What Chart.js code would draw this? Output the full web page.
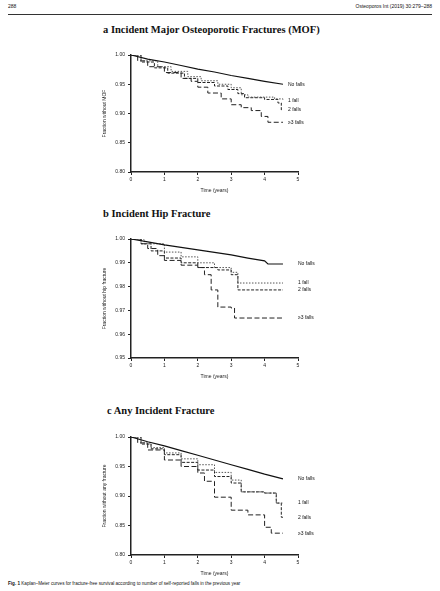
<!DOCTYPE html>
<html>
<head>
<meta charset="utf-8">
<script src="https://cdn.jsdelivr.net/npm/chart.js@4.4.1/dist/chart.umd.min.js"></script>
<style>
  body { margin: 0; background: #fff; width: 440px; height: 591px; position: relative; overflow: hidden; font-family: "Liberation Serif", serif; color: #111; }
  .abs { position: absolute; }
  .hdr { font-family: "Liberation Sans", sans-serif; font-size: 5px; top: 3px; }
  .rule { left: 8px; top: 14px; width: 424px; height: 0; border-top: 1.5px solid #333; }
  .ttl { font-weight: bold; font-size: 10.5px; white-space: nowrap; }
  .cap { font-family: "Liberation Sans", sans-serif; font-size: 4.6px; left: 8px; top: 581px; white-space: nowrap; }
  canvas { position: absolute; }
</style>
</head>
<body>
<div class="abs hdr" style="left:8px">288</div>
<div class="abs hdr" style="right:8px">Osteoporos Int (2019) 30:279–288</div>
<div class="abs rule"></div>

<div class="abs ttl" style="left:103px; top:24px">a Incident Major Osteoporotic Fractures (MOF)</div>
<canvas id="chartA" width="230" height="148" style="left:100px; top:48px"></canvas>

<div class="abs ttl" style="left:103px; top:208px">b Incident Hip Fracture</div>
<canvas id="chartB" width="230" height="150" style="left:100px; top:232px"></canvas>

<div class="abs ttl" style="left:107px; top:405px">c Any Incident Fracture</div>
<canvas id="chartC" width="230" height="149" style="left:100px; top:430px"></canvas>

<div class="abs cap"><b>Fig. 1</b> Kaplan–Meier curves for fracture-free survival according to number of self-reported falls in the previous year</div>

<script>
var groups = ["No falls", "1 fall", "2 falls", "≥3 falls"];
var timeTicks = [0, 1, 2, 3, 4, 5];

// panel a: major osteoporotic fracture, [years, fraction]
var mofNoFalls = [[0,1],[0.5,0.993],[1,0.988],[1.5,0.982],[2,0.976],[2.5,0.971],[3,0.965],[3.5,0.96],[4,0.955],[4.55,0.95]];
var mofOneFall = [[0,1],[0.3,0.99],[0.8,0.98],[1.2,0.972],[1.7,0.963],[2.1,0.956],[2.6,0.95],[3,0.944],[3.3,0.932],[3.5,0.928],[4.3,0.925],[4.55,0.922]];
var mofTwoFalls = [[0,1],[0.3,0.988],[0.7,0.978],[1.1,0.969],[1.6,0.96],[2,0.953],[2.5,0.947],[2.9,0.941],[3.2,0.934],[3.4,0.927],[4,0.924],[4.4,0.918],[4.5,0.906],[4.55,0.906]];
var mofThreeFalls = [[0,1],[0.2,0.99],[0.5,0.98],[1,0.97],[1.5,0.96],[1.8,0.955],[2,0.945],[2.3,0.935],[2.7,0.925],[3,0.915],[3.3,0.91],[3.6,0.905],[3.9,0.895],[4.1,0.885],[4.55,0.885]];

// panel b: hip fracture
var hipNoFalls = [[0,1],[0.5,0.9988],[1,0.9975],[1.5,0.9965],[2,0.9954],[2.5,0.9944],[3,0.9933],[3.5,0.992],[4,0.9908],[4.1,0.9895],[4.55,0.9895]];
var hipOneFall = [[0,1],[0.4,0.998],[1,0.9945],[1.5,0.9925],[2,0.99],[2.5,0.988],[3,0.986],[3.2,0.9815],[4.55,0.9815]];
var hipTwoFalls = [[0,1],[0.3,0.998],[0.6,0.995],[1,0.992],[1.5,0.99],[2,0.988],[2.6,0.987],[3,0.985],[3.2,0.9786],[4.55,0.9786]];
var hipThreeFalls = [[0,1],[0.3,0.998],[0.5,0.996],[0.8,0.993],[1,0.991],[1.5,0.989],[2,0.988],[2.2,0.985],[2.4,0.9786],[2.6,0.9714],[3,0.971],[3.1,0.9668],[4.55,0.9668]];

// panel c: any fracture
var anyNoFalls = [[0,1],[0.5,0.992],[1,0.985],[1.5,0.977],[2,0.969],[2.5,0.961],[3,0.953],[3.5,0.945],[4,0.937],[4.55,0.929]];
var anyOneFall = [[0,1],[0.3,0.99],[0.6,0.982],[1,0.973],[1.5,0.963],[2,0.953],[2.5,0.94],[3,0.927],[3.3,0.907],[4,0.905],[4.35,0.888],[4.55,0.888]];
var anyTwoFalls = [[0,1],[0.3,0.988],[0.6,0.98],[1,0.97],[1.5,0.957],[2,0.944],[2.5,0.933],[3,0.922],[3.3,0.907],[4,0.905],[4.35,0.888],[4.5,0.864],[4.55,0.864]];
var anyThreeFalls = [[0,1],[0.2,0.99],[0.5,0.978],[1,0.961],[1.5,0.95],[2,0.939],[2.2,0.925],[2.5,0.898],[3,0.876],[3.5,0.868],[4,0.847],[4.2,0.837],[4.55,0.837]];

var dashes = [[], [1.5, 1.5], [3, 1.5], [5, 2.5]];
var lineColors = ["#111", "#555", "#222", "#222"];

var endLabels = {
  id: 'endLabels',
  afterDatasetsDraw: function(chart) {
    var ctx = chart.ctx;
    var xs = chart.scales.x;
    var lx = xs.getPixelForValue(chart.options.labelAt);
    var last = -100;
    ctx.save();
    ctx.font = '5px "Liberation Sans"';
    ctx.fillStyle = '#111';
    ctx.textBaseline = 'middle';
    chart.data.datasets.forEach(function(ds, i) {
      var pts = chart.getDatasetMeta(i).data;
      var y = pts[pts.length - 1].y;
      if (y < last + 7) y = last + 7;
      last = y;
      ctx.fillText(ds.label, lx, y);
    });
    ctx.restore();
  }
};

function makeChart(id, series, yMin, yStep, yTitle, labelAt, padTop) {
  new Chart(document.getElementById(id), {
    type: 'line',
    data: {
      datasets: series.map(function(s, i) {
        return {
          label: groups[i],
          data: s.map(function(p) { return { x: p[0], y: p[1] }; }),
          borderColor: lineColors[i],
          borderWidth: i == 0 ? 1.2 : 1,
          borderDash: dashes[i],
          pointRadius: 0,
          stepped: i != 0,
          tension: 0
        };
      })
    },
    options: {
      responsive: false,
      animation: false,
      devicePixelRatio: 1,
      labelAt: labelAt,
      layout: { padding: { top: padTop, right: 32, left: 0, bottom: 0 } },
      plugins: { legend: { display: false }, tooltip: { enabled: false } },
      scales: {
        x: {
          type: 'linear', min: 0, max: 5,
          afterBuildTicks: function(s) { s.ticks = timeTicks.map(function(v) { return { value: v }; }); },
          afterFit: function(s) { s.height = 24; },
          grid: { drawOnChartArea: false, drawTicks: true, tickLength: 3, color: '#222' },
          border: { color: '#222', width: 1.5 },
          ticks: { font: { family: 'Liberation Sans', size: 5 }, color: '#222', padding: 2 },
          title: { display: true, text: 'Time (years)', font: { family: 'Liberation Sans', size: 5 }, color: '#222', padding: { top: 3, bottom: 2 } }
        },
        y: {
          type: 'linear', min: yMin, max: 1,
          ticks: { stepSize: yStep, font: { family: 'Liberation Sans', size: 5 }, color: '#222', padding: 3,
                   callback: function(v) { return v.toFixed(2); } },
          afterFit: function(s) { s.width = 31; },
          grid: { drawOnChartArea: false, drawTicks: true, tickLength: 3, color: '#222' },
          border: { color: '#222', width: 1.5 },
          title: { display: true, text: yTitle, font: { family: 'Liberation Sans', size: 5 }, color: '#222', padding: 2 }
        }
      }
    },
    plugins: [endLabels]
  });
}

makeChart('chartA', [mofNoFalls, mofOneFall, mofTwoFalls, mofThreeFalls], 0.80, 0.05, 'Fraction without MOF', 4.7, 7);
makeChart('chartB', [hipNoFalls, hipOneFall, hipTwoFalls, hipThreeFalls], 0.95, 0.01, 'Fraction without hip fracture', 5.0, 7);
makeChart('chartC', [anyNoFalls, anyOneFall, anyTwoFalls, anyThreeFalls], 0.80, 0.05, 'Fraction without any fracture', 5.0, 7);
</script>
</body>
</html>
